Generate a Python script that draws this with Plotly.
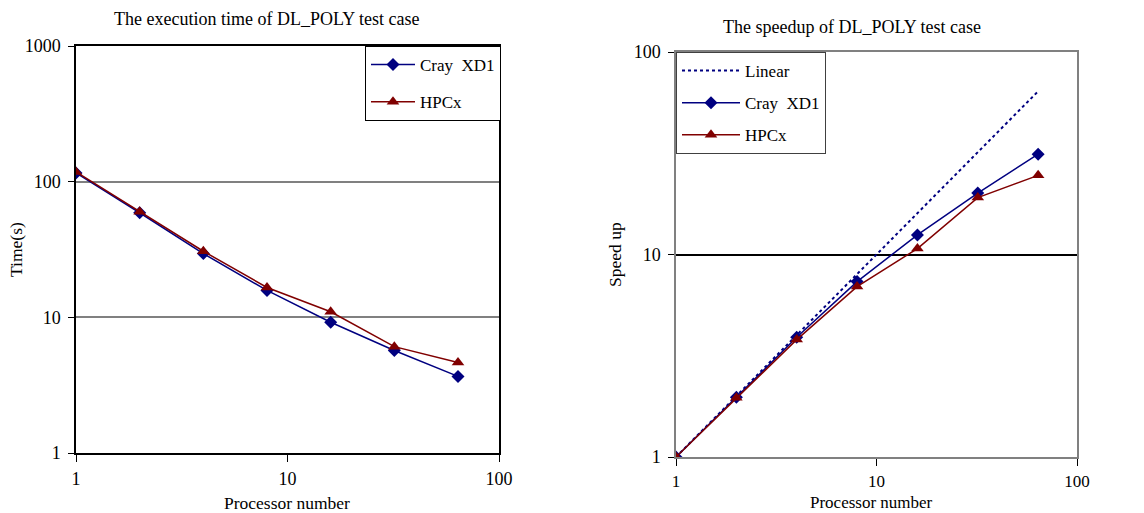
import plotly.graph_objects as go

procs = [1, 2, 4, 8, 16, 32, 64]
time_cray = [116, 59, 29.5, 15.8, 9.2, 5.7, 3.67]
time_hpcx = [118, 60, 30.7, 16.6, 11.0, 6.08, 4.65]
linear = [1, 2, 4, 8, 16, 32, 64]
speed_cray = [1, 1.97, 3.9, 7.35, 12.5, 20.1, 31.3]
speed_hpcx = [1, 1.96, 3.8, 6.94, 10.7, 19.1, 24.6]

NAVY = "#000080"
MAROON = "#800000"
FONT = "Liberation Serif"
W, H = 1144, 513

fig = go.Figure()
# left chart
fig.add_trace(go.Scatter(x=procs, y=time_cray, name="Cray  XD1", mode="lines+markers",
                         line=dict(color=NAVY, width=1.5),
                         marker=dict(symbol="diamond", size=10, color=NAVY),
                         xaxis="x", yaxis="y", legend="legend", legendgroup="a"))
fig.add_trace(go.Scatter(x=procs, y=time_hpcx, name="HPCx", mode="lines+markers",
                         line=dict(color=MAROON, width=1.5),
                         marker=dict(symbol="triangle-up", size=11, color=MAROON),
                         xaxis="x", yaxis="y", legend="legend", legendgroup="b"))
# right chart
fig.add_trace(go.Scatter(x=procs, y=linear, name="Linear", mode="lines",
                         line=dict(color=NAVY, width=2, dash="dot"),
                         xaxis="x2", yaxis="y2", legend="legend2", legendgroup="c"))
fig.add_trace(go.Scatter(x=procs, y=speed_cray, name="Cray  XD1", mode="lines+markers",
                         line=dict(color=NAVY, width=1.5),
                         marker=dict(symbol="diamond", size=10, color=NAVY),
                         xaxis="x2", yaxis="y2", legend="legend2", legendgroup="d"))
fig.add_trace(go.Scatter(x=procs, y=speed_hpcx, name="HPCx", mode="lines+markers",
                         line=dict(color=MAROON, width=1.5),
                         marker=dict(symbol="triangle-up", size=11, color=MAROON),
                         xaxis="x2", yaxis="y2", legend="legend2", legendgroup="e"))

def px_x(p):
    return p / W

def px_y(p):
    return 1 - p / H

def tf(size):
    return dict(family=FONT, size=size, color="black")

def xax(domain, anchor, linecolor, fsize, standoff):
    return dict(type="log", domain=domain, anchor=anchor, range=[0, 2], automargin=False,
                tickmode="array", tickvals=[1, 10, 100], ticktext=["1", "10", "100"],
                ticks="outside", ticklen=7, tickcolor="black", tickwidth=1,
                showline=True, linecolor=linecolor, linewidth=1.5, mirror=True,
                showgrid=False, zeroline=False, tickfont=tf(fsize),
                ticklabelstandoff=standoff)

def yax(domain, anchor, rng, vals, linecolor, gridcolor):
    return dict(type="log", domain=domain, anchor=anchor, range=rng, automargin=False,
                tickmode="array", tickvals=vals, ticktext=[str(v) for v in vals],
                ticks="outside", ticklen=6, tickcolor="black", tickwidth=1,
                showline=True, linecolor=linecolor, linewidth=1.5, mirror=True,
                showgrid=True, gridcolor=gridcolor, gridwidth=1.5, zeroline=False,
                tickfont=tf(18), ticklabelstandoff=4)

legfont = tf(17)

def label(text, x, y, angle=0, size=18, yanchor="middle"):
    return dict(text=text, x=px_x(x), y=px_y(y), xref="paper", yref="paper",
                showarrow=False, xanchor="center", yanchor=yanchor, textangle=angle,
                borderpad=0, font=tf(size))

fig.update_layout(
    width=W, height=H, margin=dict(l=0, r=0, t=0, b=0, autoexpand=False),
    paper_bgcolor="white", plot_bgcolor="white",
    xaxis=xax([px_x(76), px_x(499)], "y", "black", 18, 2),
    yaxis=yax([px_y(453), px_y(46)], "x", [0, 3], [1, 10, 100, 1000], "black", "#808080"),
    xaxis2=xax([px_x(676), px_x(1077)], "y2", "#808080", 17, 1),
    yaxis2=yax([px_y(457), px_y(52)], "x2", [0, 2], [1, 10, 100], "#808080", "black"),
    legend=dict(x=px_x(365), y=px_y(46), xanchor="left", yanchor="top",
                bordercolor="black", borderwidth=1, bgcolor="white",
                font=legfont, tracegroupgap=12, itemwidth=44,
                traceorder="grouped"),
    legend2=dict(x=px_x(676), y=px_y(52), xanchor="left", yanchor="top",
                 bordercolor="#404040", borderwidth=1, bgcolor="white",
                 font=legfont, tracegroupgap=7, itemwidth=58,
                 traceorder="grouped"),
    annotations=[
        label("The execution time of DL_POLY test case", 266, 19),
        label("The speedup of DL_POLY test case", 852, 27),
        label("Processor number", 287, 503, size=17.5),
        label("Processor number", 872, 513, size=17, yanchor="bottom"),
        label("Time(s)", 16, 250, angle=-90, size=17.5),
        label("Speed up", 615, 255, angle=-90, size=17.5),
    ],
)

fig.write_html("out.html")
